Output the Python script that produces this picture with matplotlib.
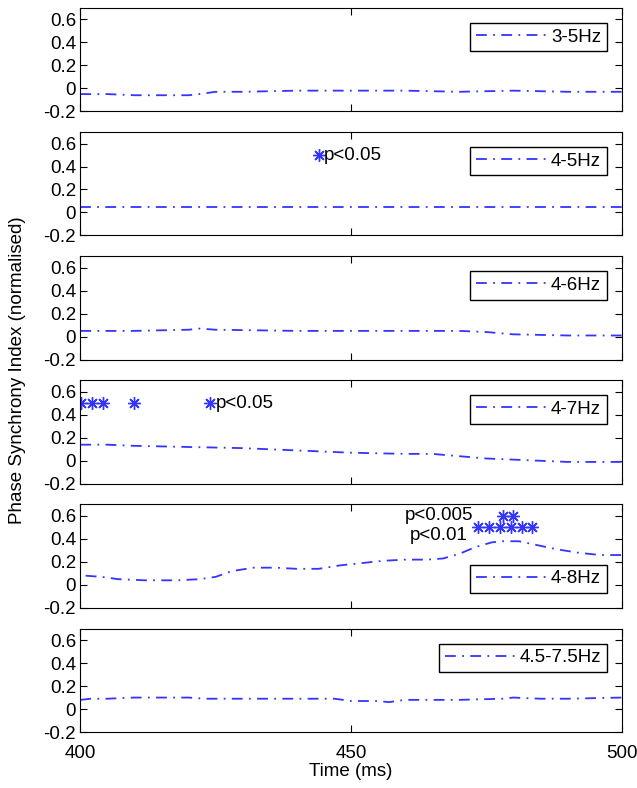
import matplotlib.pyplot as plt

plt.rcParams['font.family'] = ['Liberation Sans', 'DejaVu Sans']
plt.rcParams['font.size'] = 13.5

# band labels
bands = ['3-5Hz', '4-5Hz', '4-6Hz', '4-7Hz', '4-8Hz', '4.5-7.5Hz']

# time points (ms) and normalised PSI for each band
t_35 = [400, 405, 410, 415, 420, 422, 425, 430, 440, 450, 460, 470, 480, 490, 500]
psi_35 = [-0.05, -0.05, -0.06, -0.06, -0.06, -0.05, -0.03, -0.03, -0.02, -0.02, -0.02, -0.03, -0.02, -0.03, -0.03]

t_45 = [400, 420, 440, 460, 480, 500]
psi_45 = [0.05, 0.05, 0.05, 0.05, 0.05, 0.05]

t_46 = [400, 410, 420, 422, 425, 440, 450, 460, 470, 475, 480, 490, 500]
psi_46 = [0.05, 0.05, 0.06, 0.07, 0.06, 0.05, 0.05, 0.05, 0.05, 0.04, 0.02, 0.01, 0.01]

t_47 = [400, 405, 410, 420, 430, 440, 450, 460, 465, 470, 475, 480, 485, 490, 500]
psi_47 = [0.14, 0.14, 0.13, 0.12, 0.11, 0.09, 0.07, 0.06, 0.06, 0.04, 0.02, 0.01, 0.0, -0.01, -0.01]

t_48 = [401, 404, 407, 412, 418, 422, 425, 428, 432, 436, 440, 444, 448, 452, 456, 460, 464, 467, 470, 473, 476, 478, 481, 484, 488, 492, 496, 500]
psi_48 = [0.08, 0.07, 0.05, 0.04, 0.04, 0.05, 0.07, 0.12, 0.15, 0.15, 0.14, 0.14, 0.17, 0.19, 0.21, 0.22, 0.22, 0.23, 0.27, 0.33, 0.37, 0.38, 0.38, 0.35, 0.31, 0.28, 0.26, 0.26]

t_4575 = [400, 402, 405, 410, 420, 423, 430, 440, 447, 450, 455, 457, 460, 470, 478, 480, 485, 490, 500]
psi_4575 = [0.08, 0.09, 0.09, 0.1, 0.1, 0.09, 0.09, 0.09, 0.09, 0.07, 0.07, 0.06, 0.08, 0.08, 0.09, 0.1, 0.09, 0.09, 0.1]

times = [t_35, t_45, t_46, t_47, t_48, t_4575]
values = [psi_35, psi_45, psi_46, psi_47, psi_48, psi_4575]

# significance markers
sig_45_x = [444]
sig_45_y = [0.5]
sig_47_x = [400.2, 402.2, 404.2, 410, 424]
sig_47_y = [0.5, 0.5, 0.5, 0.5, 0.5]
sig_48_x = [473.5, 475.5, 477.5, 479.5, 481.5, 483.5, 478, 480]
sig_48_y = [0.5, 0.5, 0.5, 0.5, 0.5, 0.5, 0.6, 0.6]

blue = '#3434ff'
dashdot = (0, (6, 3.5, 1, 3.5))
star = dict(marker=(8, 2, 0), color=blue, ms=9, mew=1.0, ls='none')

fig, axes = plt.subplots(6, 1, figsize=(6.37, 7.88), dpi=100, sharex=True)
fig.subplots_adjust(left=0.126, right=0.976, top=0.99, bottom=0.071, hspace=0.2)

for i, ax in enumerate(axes):
    ax.plot(times[i], values[i], linestyle=dashdot, color=blue, lw=1.3, label=bands[i])
    ax.set_xlim(400, 500)
    ax.set_ylim(-0.2, 0.7)
    ax.set_yticks([-0.2, 0, 0.2, 0.4, 0.6])
    ax.set_yticklabels(['-0.2', '0', '0.2', '0.4', '0.6'])
    ax.set_xticks([400, 450, 500])
    ax.tick_params(direction='in', top=True, right=True, length=5, labelsize=13.5, pad=3)
    ax.tick_params(axis='x', pad=9)
    loc = 'lower right' if i == 4 else 'upper right'
    leg = ax.legend(loc=loc, handlelength=3.8, fancybox=False, framealpha=1,
                    edgecolor='black', fontsize=13.5, borderpad=0.3,
                    handletextpad=0.2, borderaxespad=0.8)
    leg.get_frame().set_linewidth(1.0)

axes[1].plot(sig_45_x, sig_45_y, **star)
axes[1].text(445, 0.5, 'p<0.05', va='center', ha='left', fontsize=13.5)

axes[3].plot(sig_47_x, sig_47_y, **star)
axes[3].text(425, 0.5, 'p<0.05', va='center', ha='left', fontsize=13.5)

axes[4].plot(sig_48_x, sig_48_y, **star)
axes[4].text(472.5, 0.6, 'p<0.005', va='center', ha='right', fontsize=13.5)
axes[4].text(471.5, 0.43, 'p<0.01', va='center', ha='right', fontsize=13.5)

axes[-1].set_xlabel('Time (ms)', fontsize=13.5, labelpad=1)
fig.text(0.028, 0.53, 'Phase Synchrony Index (normalised)', rotation=90,
         va='center', ha='center', fontsize=13.5)

fig.savefig('out.png', dpi=100)
